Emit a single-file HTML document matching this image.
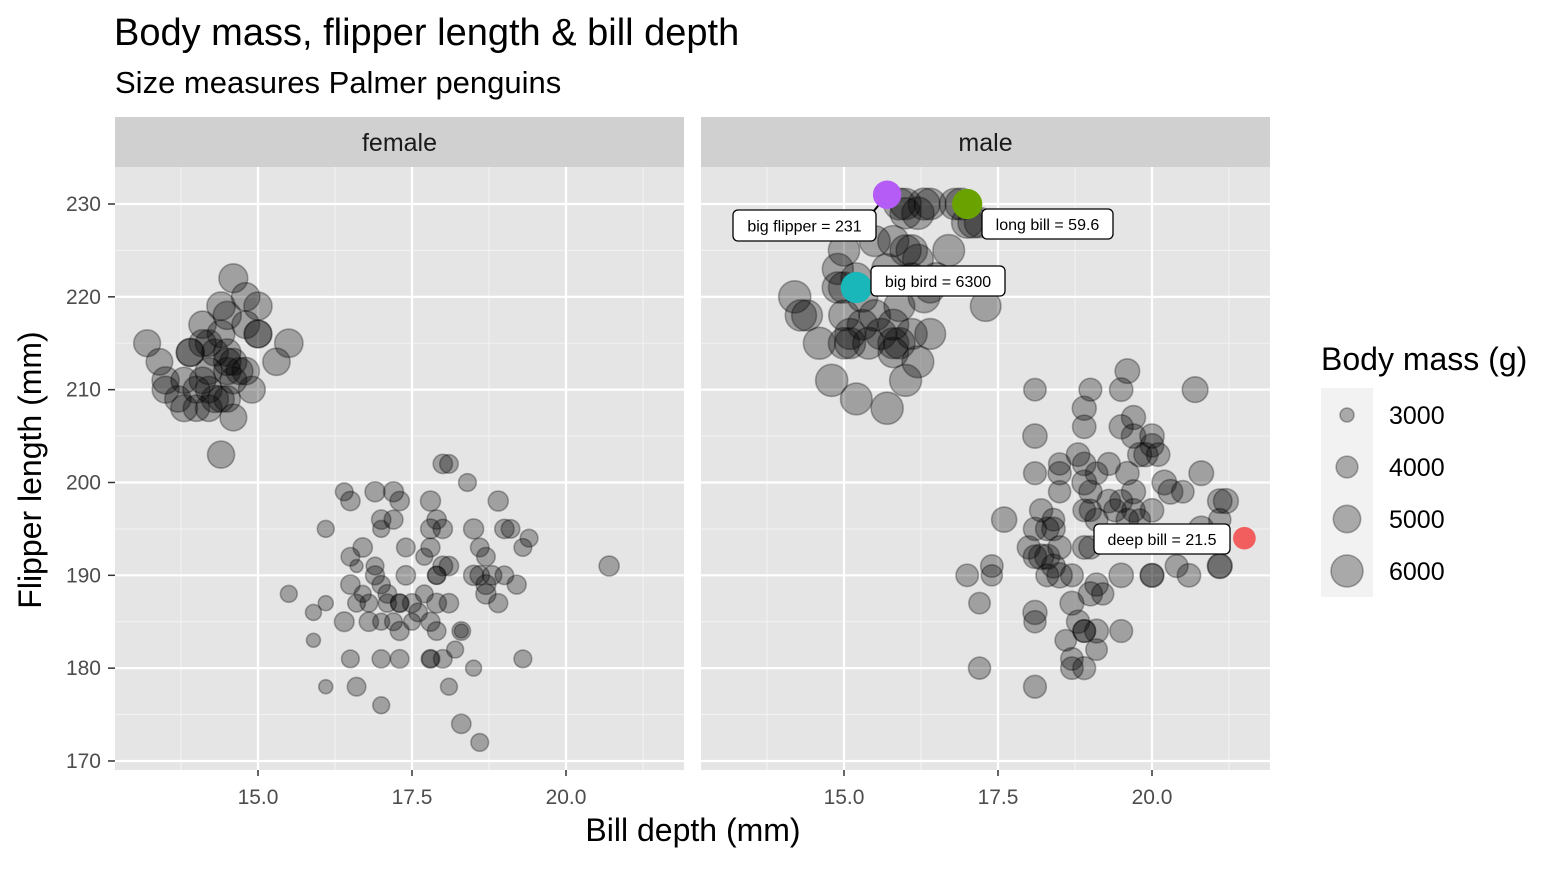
<!DOCTYPE html>
<html><head><meta charset="utf-8">
<style>
body{margin:0;background:#fff;}
svg text{font-family:"Liberation Sans",Arial,sans-serif;}
</style></head>
<body>
<svg id="chart" width="1566" height="864" xmlns="http://www.w3.org/2000/svg">
<text x="114" y="45" font-size="38" fill="#000">Body mass, flipper length &amp; bill depth</text>
<text x="115" y="93" font-size="31" fill="#000">Size measures Palmer penguins</text>
<text x="693" y="841" font-size="32" text-anchor="middle" fill="#000">Bill depth (mm)</text>
<text transform="translate(41,470) rotate(-90)" font-size="32" text-anchor="middle" fill="#000">Flipper length (mm)</text>
<g id="panels"></g>
<g>
<text x="1321" y="370" font-size="32" fill="#000">Body mass (g)</text>
<rect x="1321" y="388" width="52" height="209" fill="#f2f2f2"/>
<g id="legend-keys"></g>
</g>
</svg>
<script>
// female penguins [bill depth, flipper length, body mass]
const femaleDepth = [13.2,13.4,13.5,13.7,13.8,13.9,13.9,14.0,14.1,14.2,14.2,14.3,14.4,14.4,14.5,14.5,14.5,14.5,14.6,14.6,14.6,14.4,14.8,14.8,14.9,14.8,15.0,15.0,15.0,15.3,15.5,14.2,14.7,14.3,14.0,13.8,14.5,14.2,14.1,14.6,14.4,13.5,14.1,
18.0,18.1,18.4,18.9,16.4,16.5,16.9,17.2,17.3,17.8,17.0,17.2,16.1,17.9,17.8,18.0,18.5,19.0,19.1,19.4,19.3,18.6,18.7,17.0,17.4,16.7,16.5,16.9,16.9,17.0,17.1,17.4,17.7,17.8,18.0,18.1,17.9,17.9,18.5,18.6,18.7,18.8,19.0,19.2,18.7,18.9,16.5,16.7,16.8,16.6,17.1,17.3,17.3,17.5,17.6,17.5,17.8,17.9,17.7,18.1,16.4,16.8,17.0,17.2,17.3,17.9,18.3,18.3,15.5,16.1,15.9,15.9,16.1,16.5,17.0,17.3,17.8,17.8,18.2,18.0,18.5,19.3,16.6,17.0,18.1,18.3,18.6,20.7,16.6,16.8];
const femaleFlipper = [215,213,211,209,208,214,214,210,217,208,212,209,219,216,218,209,212,213,222,211,207,203,217,220,210,212,219,216,216,213,215,215,212,214,208,211,214,210,215,213,209,210,211,
202,202,200,198,199,198,199,199,198,198,196,196,195,196,195,195,195,195,195,194,193,193,192,195,193,193,192,191,190,189,188,190,192,193,191,191,190,190,190,190,189,190,190,189,188,187,189,188,187,187,187,187,187,187,186,185,185,187,188,187,185,185,185,185,184,184,184,184,188,187,186,183,178,181,181,181,181,181,182,181,180,181,178,176,178,174,172,191,191,192];
const femaleMass = [4700,4650,4750,4600,4700,4900,4900,4700,4800,4650,4700,4750,5000,4850,4950,4600,4750,4800,5100,4700,4700,4750,4850,5000,4700,4800,4950,4850,4850,4800,5000,4650,4700,4700,4600,4600,4800,4650,4750,4700,4600,4700,4650,
3500,3400,3300,3600,3300,3500,3600,3600,3500,3600,3500,3450,3200,3500,3550,3500,3600,3500,3400,3300,3300,3400,3400,3200,3400,3500,3400,3300,3450,3350,3400,3500,3200,3450,3550,3500,3350,3350,3600,3500,3550,3500,3400,3450,3600,3450,3500,3200,3300,3300,3350,3300,3400,3450,3400,3200,3450,3550,3300,3500,3550,3500,3200,3300,3450,3400,3400,2900,3200,3000,3100,2900,2900,3300,3350,3400,3400,3250,3200,3400,3100,3300,3400,3200,3200,3500,3300,3600,2800];

// male penguins
const maleDepth = [15.9,16.0,16.2,16.3,16.4,16.8,16.9,16.0,17.0,17.1,17.2,15.5,15.8,16.0,16.1,16.2,15.0,14.9,15.7,15.2,15.0,14.9,16.1,16.3,16.5,16.7,14.2,14.3,14.4,15.0,15.1,15.3,15.5,15.8,16.1,14.6,15.0,15.1,15.4,15.6,15.8,15.9,15.8,16.2,16.0,14.8,15.2,15.7,17.3,16.4,15.3,15.9,16.4,
18.1,19.0,19.5,19.6,20.7,18.9,19.7,18.9,19.5,19.7,20.0,20.0,18.1,19.8,19.9,20.1,20.2,20.8,19.3,18.8,18.9,18.5,18.1,18.5,19.6,19.1,19.0,18.5,18.9,20.5,21.1,19.7,20.3,17.6,18.2,18.4,18.4,18.1,18.3,18.9,19.0,19.1,19.3,19.4,19.5,19.6,19.7,19.8,20.0,21.1,21.2,20.8,20.6,19.4,18.9,19.0,18.0,18.2,18.3,18.5,18.1,18.4,18.3,18.5,18.7,19.1,19.0,19.2,18.7,19.5,20.0,20.0,20.4,20.6,21.1,21.1,17.0,17.4,17.4,17.2,18.1,18.1,18.8,18.9,18.9,19.1,19.5,18.6,19.1,18.7,18.7,18.9,17.2,18.1];
const maleFlipper = [230,230,229,230,230,230,230,229,228,228,228,226,226,225,225,224,225,223,223,222,221,221,222,220,222,225,220,218,218,218,216,217,218,217,216,215,215,215,215,216,215,215,214,213,211,211,209,208,219,216,220,219,221,
210,210,210,212,210,208,207,206,206,205,205,204,205,203,203,203,200,201,202,203,202,202,201,201,201,201,199,199,200,199,198,199,199,196,197,196,195,195,195,197,197,196,198,197,198,196,197,196,197,196,198,195,194,194,193,193,193,192,192,193,192,191,190,190,190,189,188,188,187,190,190,190,191,190,191,191,190,190,191,187,186,185,185,184,184,184,184,183,182,181,180,180,180,178];
const maleMass = [5700,5600,5800,5700,5650,5600,5700,5550,5600,5500,5400,5500,5550,5550,5600,5500,5600,5550,5450,5500,5550,5600,5500,5700,5600,5700,5800,5600,5500,5450,5500,5400,5600,5500,5500,5750,5600,5500,5700,5550,5500,5600,5400,5700,5750,5800,5700,5800,5450,5500,5450,5500,5500,
3950,4000,4100,4300,4500,4200,4200,4100,4200,4250,4250,4100,4250,4200,4200,4100,4300,4300,4000,4100,4100,3900,4000,4050,4100,3950,4050,3900,4300,3950,4250,4200,4300,4400,4050,3950,4100,4050,4100,3950,3900,4000,4100,4000,4000,3950,4100,3800,4100,3900,4350,4450,4200,4000,4100,4050,4050,4400,4350,4100,4100,4150,4000,4400,4000,4050,4200,3900,4150,4250,4100,4150,4000,4100,4200,4350,3950,3750,3950,3800,4200,3900,4050,3950,4000,4150,4000,3800,3800,3950,3950,4000,3900,4000];

// highlighted points (male panel)
const highlightNames = ["big flipper = 231","long bill = 59.6","big bird = 6300","deep bill = 21.5"];
const highlightDepth = [15.7,17.0,15.2,21.5];
const highlightFlipper = [231,230,221,194];
const highlightMass = [5650,6050,6300,4500];
const highlightColors = ["#B45CF5","#6AA300","#19B6BA","#F25E5E"];

const xTicks = [15.0,17.5,20.0];
const xTickLabels = ["15.0","17.5","20.0"];
const yTicks = [170,180,190,200,210,220,230];
const legendMasses = [3000,4000,5000,6000];

const NS = "http://www.w3.org/2000/svg";
const svg = document.getElementById('chart');
const panelsG = document.getElementById('panels');
function mk(tag, attrs, parent){const e=document.createElementNS(NS,tag);for(const k in attrs)e.setAttribute(k,attrs[k]);(parent||svg).appendChild(e);return e;}

const PT=167, PB=770, PW=569;
const xPx = (d, left) => left + 143 + (d-15)*61.6;
const yPx = f => 204 + (230-f)*9.283;
const rOf = m => Math.sqrt(Math.max(4, -158 + 0.069*m));

function panel(left, name, depth, flipper, mass){
  const g = mk('g',{},panelsG);
  
  
  const bg = mk('rect',{x:left,y:PT,width:PW,height:PB-PT,fill:'#e5e5e5'},g);
  
  
  const strip = mk('rect',{x:left,y:117,width:PW,height:50,fill:'#d0d0d0'},g);
  
  
  const st = mk('text',{x:left+PW/2,y:151,'font-size':25,'text-anchor':'middle',fill:'#1a1a1a'},g);
  st.textContent = name;
  
  
  for (const d of [13.75,16.25,18.75,21.25]) { const x=xPx(d,left); mk('line',{x1:x,x2:x,y1:PT,y2:PB,stroke:'#f2f2f2','stroke-width':1.1},g); }
  for (let f=175; f<=235; f+=10) { const y=yPx(f); if(y>PT&&y<PB) mk('line',{x1:left,x2:left+PW,y1:y,y2:y,stroke:'#f2f2f2','stroke-width':1.1},g); }
  xTicks.forEach((d,i)=>{ const x=xPx(d,left);
    mk('line',{x1:x,x2:x,y1:PT,y2:PB,stroke:'#fff','stroke-width':2.2},g);
    mk('line',{x1:x,x2:x,y1:PB,y2:PB+6,stroke:'#333','stroke-width':1.5},g);
    const t=mk('text',{x:x,y:PB+34,'font-size':21,'text-anchor':'middle',fill:'#4d4d4d'},g);
    t.textContent=xTickLabels[i];
    
    
  });
  yTicks.forEach(f=>{ const y=yPx(f);
    mk('line',{x1:left,x2:left+PW,y1:y,y2:y,stroke:'#fff','stroke-width':2.2},g);
  });
  depth.forEach((d,i)=>{
    const c = mk('circle',{cx:xPx(d,left),cy:yPx(flipper[i]),r:rOf(mass[i])+0.5,fill:'rgba(0,0,0,0.3)',stroke:'rgba(0,0,0,0.3)','stroke-width':1.6},g);
    
    
  });
  return g;
}
panel(115,'female',femaleDepth,femaleFlipper,femaleMass);
const mg = panel(701,'male',maleDepth,maleFlipper,maleMass);

yTicks.forEach(f=>{ const y=yPx(f);
  mk('line',{x1:108,x2:115,y1:y,y2:y,stroke:'#333','stroke-width':1.5});
  const t=mk('text',{x:101,y:y+7,'font-size':21,'text-anchor':'end',fill:'#4d4d4d'});
  t.textContent=f;
  
  
});

const labelBoxes = [[733,210,143,31],[982,209,131,30],[871,266,134,30],[1094,524,136,30]];
const hl = mk('g',{},mg);


mk('line',{x1:xPx(highlightDepth[0],701),y1:yPx(highlightFlipper[0]),x2:873,y2:212,stroke:'#000','stroke-width':2},hl);
highlightDepth.forEach((d,i)=>{
  const c=mk('circle',{cx:xPx(d,701),cy:yPx(highlightFlipper[i]),r:rOf(highlightMass[i])-1,fill:highlightColors[i]},hl);
  
  
});
highlightNames.forEach((n,i)=>{
  const b=labelBoxes[i];
  const r=mk('rect',{x:b[0],y:b[1],width:b[2],height:b[3],rx:5,fill:'#fff',stroke:'#000','stroke-width':1.3},hl);
  
  
  const t=mk('text',{x:b[0]+b[2]/2,y:b[1]+b[3]/2+6,'font-size':16,'text-anchor':'middle',fill:'#000'},hl);
  t.textContent=n;
  
  
});

const lk=document.getElementById('legend-keys');
const legY=[415,467,519,571];
legendMasses.forEach((m,i)=>{
  const c=mk('circle',{cx:1347,cy:legY[i],r:rOf(m),fill:'rgba(0,0,0,0.3)',stroke:'rgba(0,0,0,0.3)','stroke-width':1.6},lk);
  
  
  const t=mk('text',{x:1389,y:legY[i]+9,'font-size':25,fill:'#000'},lk);
  t.textContent=m;
  
  
});
</script>
</body></html>
